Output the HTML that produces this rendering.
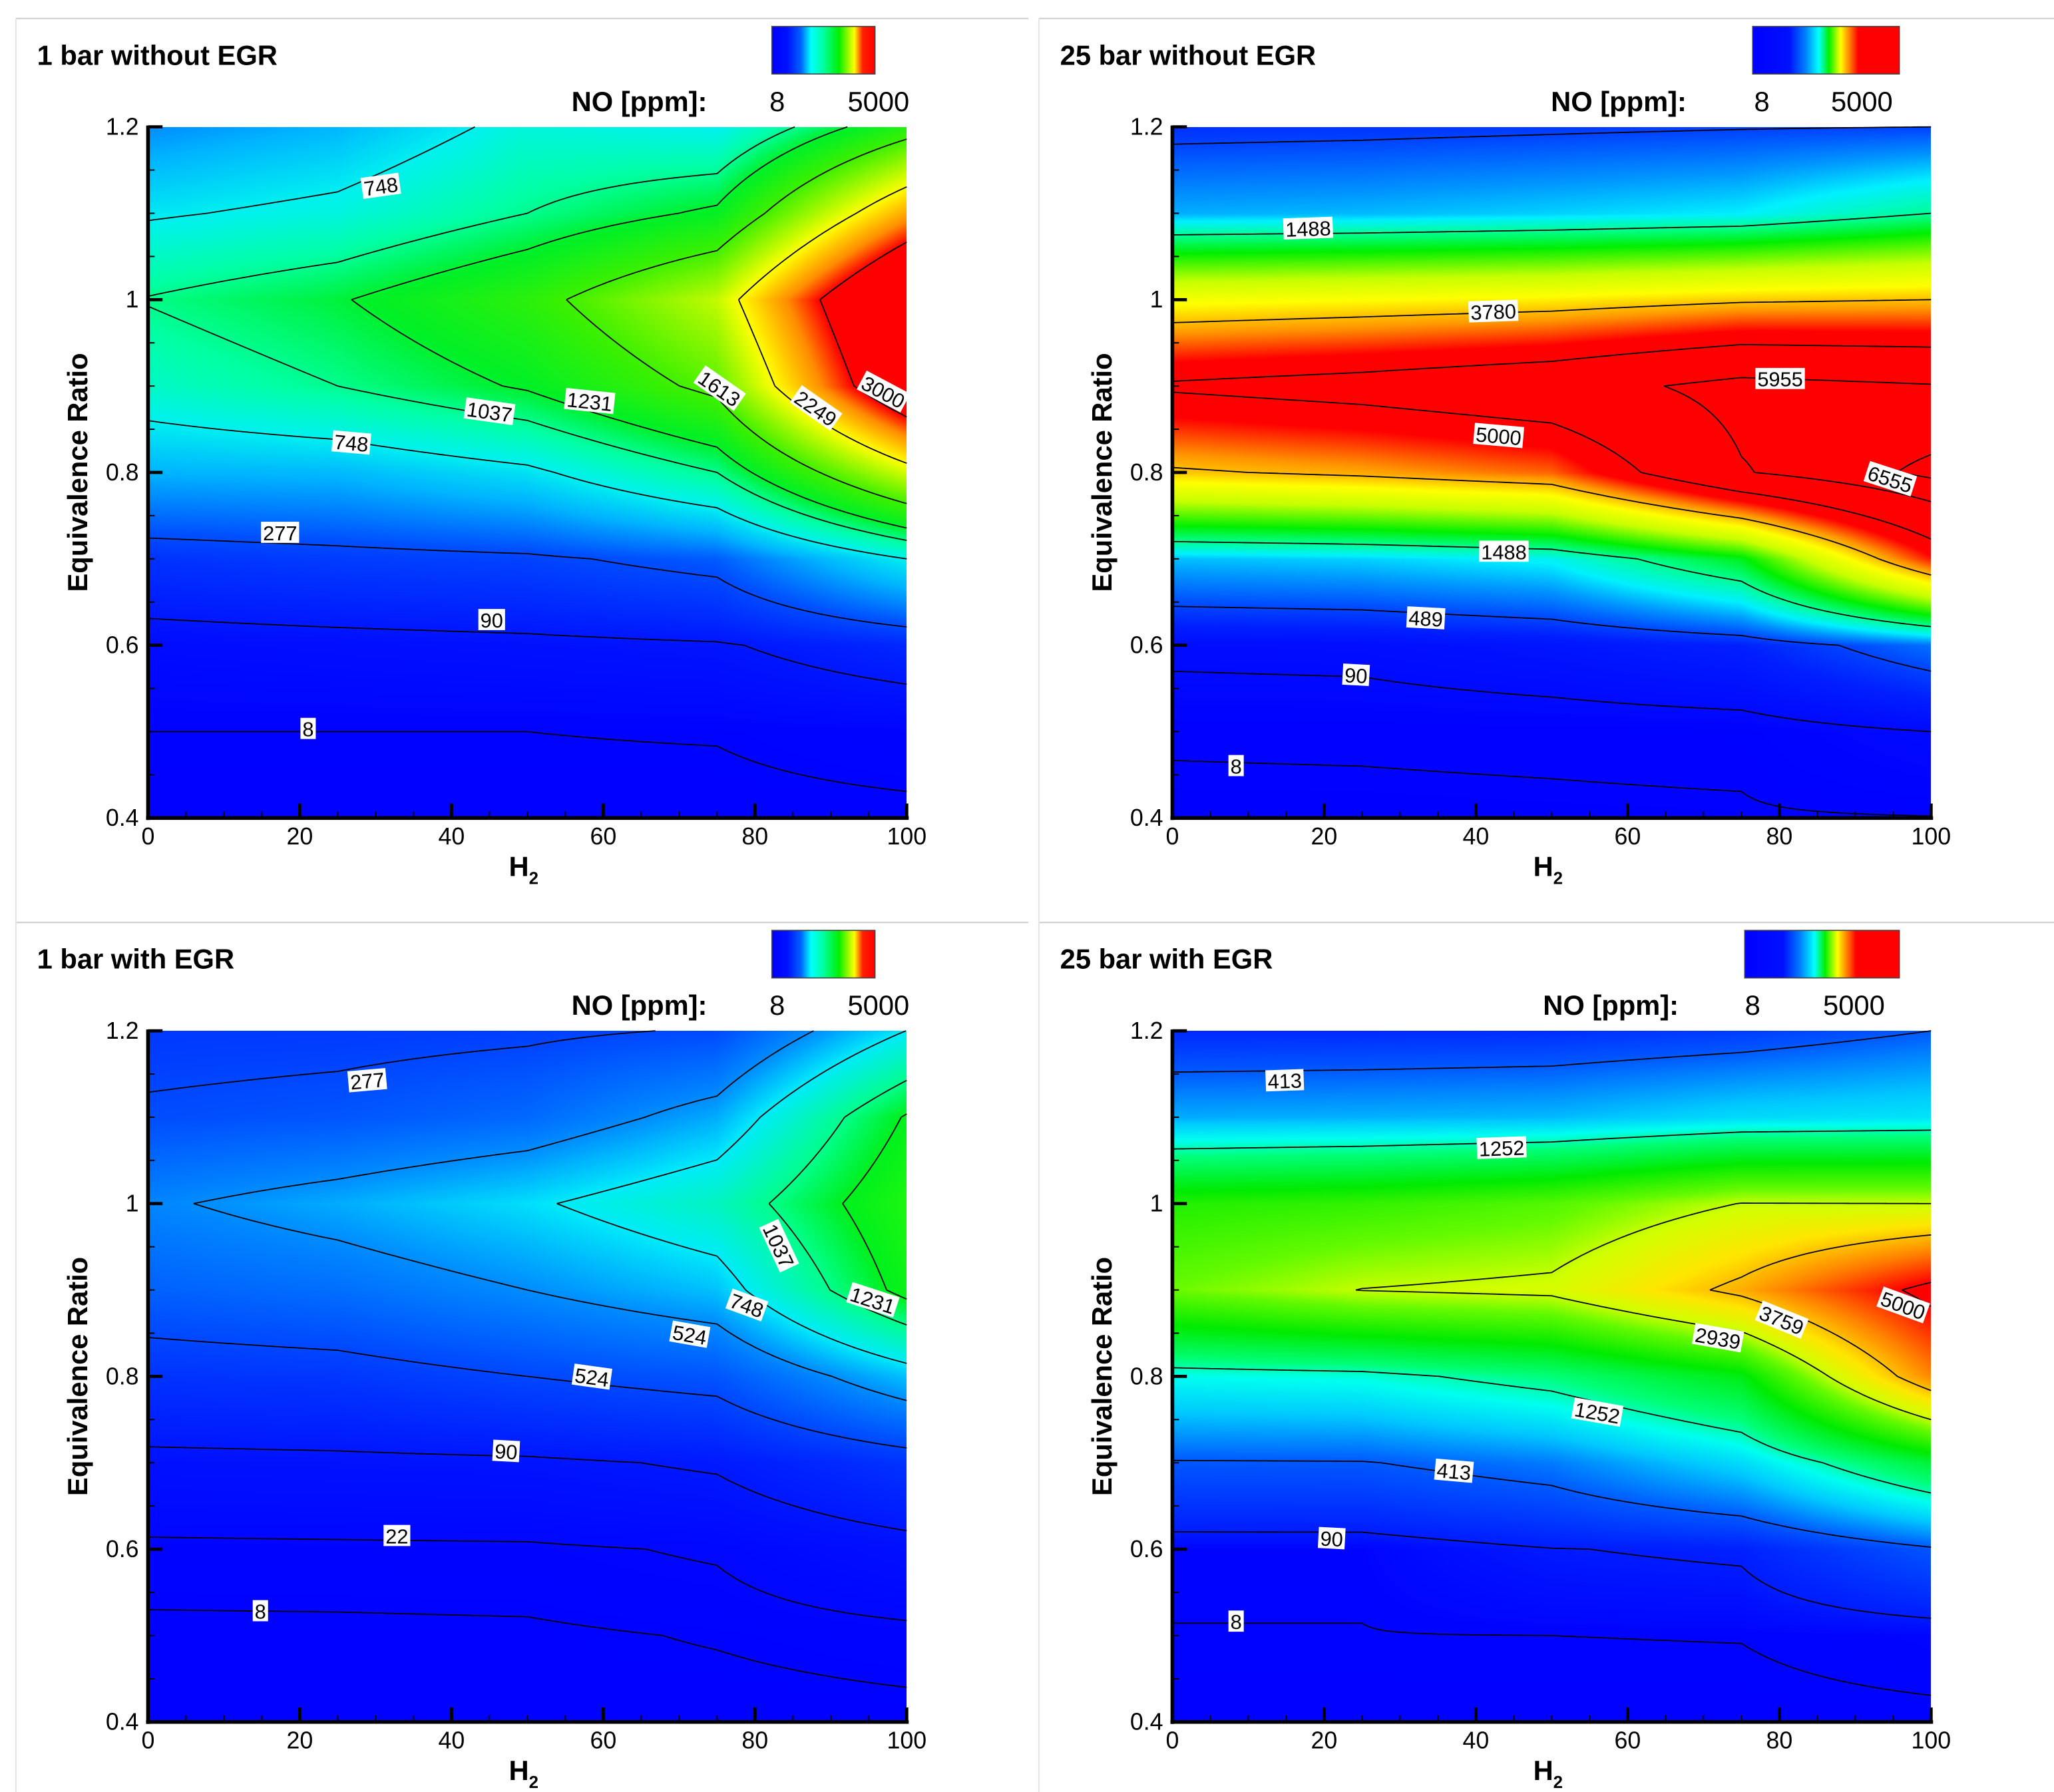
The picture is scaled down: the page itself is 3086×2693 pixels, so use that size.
<!DOCTYPE html>
<html><head><meta charset="utf-8">
<style>
html,body{margin:0;padding:0;background:#fff;}
#root{position:relative;width:3086px;height:2693px;overflow:hidden;background:#fff;}
canvas{position:absolute;}
svg{position:absolute;left:0;top:0;}
text{font-family:"Liberation Sans",Arial,sans-serif;}
</style></head>
<body>
<div id="root">
<svg id="svg" width="3086" height="2693" viewBox="0 0 1554 1356" preserveAspectRatio="none">
<defs>
<linearGradient id="cbA" x1="0" x2="1" y1="0" y2="0">
<stop offset="0" stop-color="#0000ff"/><stop offset="0.15" stop-color="#0010ff"/><stop offset="0.28" stop-color="#0060ff"/><stop offset="0.38" stop-color="#00ffff"/><stop offset="0.5" stop-color="#00ffa0"/><stop offset="0.65" stop-color="#00f000"/><stop offset="0.8" stop-color="#ffff00"/><stop offset="0.88" stop-color="#ff2000"/><stop offset="1" stop-color="#ff0000"/>
</linearGradient>
<linearGradient id="cbB" x1="0" x2="1" y1="0" y2="0">
<stop offset="0" stop-color="#0000ff"/><stop offset="0.25" stop-color="#0010ff"/><stop offset="0.36" stop-color="#0080ff"/><stop offset="0.45" stop-color="#00ffff"/><stop offset="0.52" stop-color="#00f000"/><stop offset="0.6" stop-color="#ffff00"/><stop offset="0.72" stop-color="#ff0000"/><stop offset="1" stop-color="#ff0000"/>
</linearGradient>
</defs>
<line x1="12" y1="14" x2="778" y2="14" stroke="#ccc" stroke-width="1"/>
<line x1="786" y1="14" x2="1554" y2="14" stroke="#ccc" stroke-width="1"/>
<line x1="12" y1="698" x2="778" y2="698" stroke="#ccc" stroke-width="1"/>
<line x1="786" y1="698" x2="1554" y2="698" stroke="#ccc" stroke-width="1"/>
<line x1="12" y1="14" x2="12" y2="1356" stroke="#e4e4e4" stroke-width="1"/>
<line x1="786" y1="14" x2="786" y2="1356" stroke="#e4e4e4" stroke-width="1"/>
</svg>
</div>
<script>
// ---------- data ----------
const h2Grid = [0, 25, 50, 75, 100];
const phiGrid = [0.4, 0.5, 0.6, 0.7, 0.8, 0.9, 1.0, 1.1, 1.2];
// NO ppm values, columns per H2 (each inner array runs phi 0.4..1.2)
const noTL = [
  [3, 8, 45, 190, 550, 880, 1050, 720, 450],
  [3, 8, 55, 225, 570, 1037, 1210, 810, 560],
  [4, 8, 65, 250, 700, 1260, 1500, 1037, 820],
  [3, 9, 80, 330, 1037, 1700, 2050, 1280, 750],
  [4, 17, 150, 748, 2100, 3500, 3800, 2600, 1450]
];
const noTR = [
  [2, 11, 124, 935, 3700, 5100, 3300, 884, 390],
  [2, 12, 135, 1000, 3900, 5300, 3400, 920, 410],
  [3, 14, 204, 1150, 4200, 5600, 3500, 1000, 440],
  [4, 17, 309, 1900, 5900, 6200, 3700, 1100, 470],
  [6, 90, 660, 4500, 6700, 6000, 3780, 1488, 489]
];
const noBL = [
  [3, 5, 15, 65, 200, 371, 500, 300, 220],
  [3, 5, 16, 70, 215, 420, 600, 330, 230],
  [3, 5.5, 17, 75, 277, 524, 720, 400, 250],
  [3, 9, 25, 100, 330, 650, 900, 600, 290],
  [4, 14, 60, 200, 650, 1300, 1400, 1250, 750]
];
const noBR = [
  [3, 7, 14, 394, 1100, 2620, 2200, 700, 150],
  [3, 7, 14, 400, 1150, 2950, 2300, 720, 160],
  [3, 8, 85, 530, 1400, 3050, 2500, 750, 180],
  [3, 8.5, 110, 900, 1900, 3900, 2950, 900, 250],
  [4, 17, 382, 1720, 4160, 5200, 2939, 954, 413]
];
const levelsTL = [8, 90, 277, 748, 1037, 1231, 1613, 2249, 3000];
const levelsTR = [8, 90, 489, 1488, 3780, 5000, 5955, 6555];
const levelsBL = [8, 22, 90, 277, 524, 748, 1037, 1231];
const levelsBR = [8, 90, 413, 1252, 2939, 3759, 5000];
// contour labels: [text, H2, phi, angle]
const labelsTL = [["748",30.7,1.131,-8],["1037",45,0.870,8],["1231",58.2,0.882,6],["748",26.8,0.834,5],["1613",75.3,0.897,35],["2249",88,0.874,35],["3000",96.9,0.893,28],["277",17.4,0.730,0],["90",45.3,0.629,0],["8",21.1,0.503,0]];
const labelsTR = [["1488",17.9,1.082,-2],["3780",42.3,0.986,-2],["5955",80.1,0.908,0],["5000",43,0.842,5],["6555",94.6,0.792,18],["1488",43.7,0.708,0],["489",33.4,0.631,3],["90",24.2,0.565,3],["8",8.4,0.460,0]];
const labelsBL = [["277",28.9,1.142,-5],["1037",83.1,0.951,65],["748",78.9,0.882,20],["1231",95.5,0.888,18],["524",71.4,0.848,10],["524",58.5,0.799,8],["90",47.2,0.713,3],["22",32.8,0.615,0],["8",14.8,0.528,0]];
const labelsBR = [["413",14.8,1.142,-2],["1252",43.4,1.064,-2],["5000",96.3,0.882,20],["3759",80.3,0.865,22],["2939",71.9,0.844,10],["1252",56,0.758,10],["413",37.1,0.690,5],["90",21,0.612,3],["8",8.4,0.516,0]];
const xTicks = [0, 20, 40, 60, 80, 100];
const yTicks = [0.4, 0.6, 0.8, 1.0, 1.2];
const yTickLabels = ["0.4", "0.6", "0.8", "1", "1.2"];
const titles = ["1 bar without EGR", "25 bar without EGR", "1 bar with EGR", "25 bar with EGR"];

// ---------- styling (colour maps, layout) ----------
const cmapA = [[0,0,0,255],[100,0,25,255],[300,0,80,255],[550,0,180,255],[750,0,240,240],[1000,0,255,160],[1250,0,240,40],[1600,60,240,0],[2250,255,255,0],[2700,255,140,0],[3000,255,0,0],[1e9,255,0,0]];
const cmapA2 = [[0,0,0,255],[100,0,25,255],[277,0,70,255],[524,0,140,255],[748,0,235,250],[1037,0,255,140],[1231,0,240,30],[1600,60,255,0],[2250,255,255,0],[3000,255,0,0],[1e9,255,0,0]];
const cmapB = [[0,0,0,255],[300,0,30,255],[500,0,70,255],[800,0,150,255],[1100,0,240,255],[1488,0,255,150],[2000,0,240,0],[2800,200,255,0],[3400,255,255,0],[4000,255,150,0],[4600,255,0,0],[1e9,255,0,0]];
const cmapB2 = [[0,0,0,255],[100,0,30,255],[413,0,90,255],[800,0,200,255],[1100,0,255,240],[1400,0,255,120],[2000,0,235,0],[2600,100,250,0],[3000,210,255,0],[3500,255,230,0],[4200,255,130,0],[5000,255,0,0],[1e9,255,0,0]];

const S = 3086/1554, SY = 2693/1356;
const PW = 574, PH = 523;
const panels = [
  {ox:112, oy:96, z:noTL, lv:levelsTL, lb:labelsTL, cm:cmapA, cb:[584,20,78,"cbA"], nox:535, n8:588, n5:688, tx:28, title:titles[0], key:"tl"},
  {ox:887, oy:96, z:noTR, lv:levelsTR, lb:labelsTR, cm:cmapB, cb:[1326,20,111,"cbB"], nox:1276, n8:1333, n5:1432, tx:802, title:titles[1], key:"tr"},
  {ox:112, oy:780, z:noBL, lv:levelsBL, lb:labelsBL, cm:cmapA2, cb:[584,704,78,"cbA"], nox:535, n8:588, n5:688, tx:28, title:titles[2], key:"bl"},
  {ox:887, oy:780, z:noBR, lv:levelsBR, lb:labelsBR, cm:cmapB2, cb:[1320,704,117,"cbB"], nox:1270, n8:1326, n5:1426, tx:802, title:titles[3], key:"br"}
];

const NS = "http://www.w3.org/2000/svg";
const svg = document.getElementById("svg");
const root = document.getElementById("root");
function mk(tag, attrs, parent){ const e=document.createElementNS(NS,tag); for(const k in attrs) e.setAttribute(k,attrs[k]); (parent||svg).appendChild(e); return e; }

function interp(z, h, p){
  let fi = h/25; let i = Math.min(3, Math.max(0, Math.floor(fi))); let tx = fi - i;
  let fj = (p-0.4)/0.1; let j = Math.min(7, Math.max(0, Math.floor(fj))); let ty = fj - j;
  const a=z[i][j], b=z[i+1][j], c=z[i][j+1], d=z[i+1][j+1];
  return (a*(1-tx)+b*tx)*(1-ty) + (c*(1-tx)+d*tx)*ty;
}
function cmap(stops, v){
  for(let k=1;k<stops.length;k++){
    if(v<=stops[k][0]){ const s0=stops[k-1], s1=stops[k]; const t=(v-s0[0])/(s1[0]-s0[0]);
      return [s0[1]+(s1[1]-s0[1])*t, s0[2]+(s1[2]-s0[2])*t, s0[3]+(s1[3]-s0[3])*t]; }
  }
  return [255,0,0];
}

panels.forEach(P => {
  const xs = h => P.ox + h/100*PW;
  const ys = p => P.oy + (1.2-p)/0.8*PH;
  const cv = document.createElement("canvas");
  
  
  const cw = Math.round(PW*S), ch = Math.round(PH*SY);
  cv.width = cw; cv.height = ch;
  cv.style.left = Math.round(P.ox*S)+"px"; cv.style.top = Math.round(P.oy*SY)+"px";
  root.insertBefore(cv, svg);
  const ctx = cv.getContext("2d"); const im = ctx.createImageData(cw, ch);
  for(let y=0;y<ch;y++){ const p = 1.2 - y/(ch-1)*0.8;
    for(let x=0;x<cw;x++){ const h = x/(cw-1)*100;
      const c = cmap(P.cm, interp(P.z,h,p)); const o=(y*cw+x)*4;
      im.data[o]=c[0]; im.data[o+1]=c[1]; im.data[o+2]=c[2]; im.data[o+3]=255; } }
  ctx.putImageData(im,0,0);

  const g = mk("g", {});
  
  

  const N = 120;
  const vals = [];
  for(let i=0;i<=N;i++){ vals.push([]); for(let j=0;j<=N;j++) vals[i].push(interp(P.z, i/N*100, 0.4+j/N*0.8)); }
  P.lv.forEach(L => {
    let d = "";
    for(let i=0;i<N;i++) for(let j=0;j<N;j++){
      const c = [[i,j],[i+1,j],[i+1,j+1],[i,j+1]];
      const v = c.map(q=>vals[q[0]][q[1]]);
      const pts = [];
      for(let e=0;e<4;e++){ const a=v[e], b=v[(e+1)%4];
        if((a<L)!==(b<L)){ const t=(L-a)/(b-a); const A=c[e], B=c[(e+1)%4];
          const hi=(A[0]+(B[0]-A[0])*t)/N*100, pj=0.4+(A[1]+(B[1]-A[1])*t)/N*0.8;
          pts.push([xs(hi), ys(pj)]); } }
      for(let k=0;k+1<pts.length;k+=2) d += "M"+pts[k][0].toFixed(2)+" "+pts[k][1].toFixed(2)+"L"+pts[k+1][0].toFixed(2)+" "+pts[k+1][1].toFixed(2);
    }
    const path = mk("path", {d:d, fill:"none", stroke:"#000", "stroke-width":"0.9"}, g);
    
    
  });
  P.lb.forEach(l => {
    const w = l[0].length*8.6+3;
    const lg = mk("g", {transform:"translate("+xs(l[1]).toFixed(1)+","+ys(l[2]).toFixed(1)+") rotate("+l[3]+")"}, g);
    
    
    mk("rect", {x:-w/2, y:-8.5, width:w, height:16, fill:"#fff"}, lg);
    const t = mk("text", {x:0, y:5.5, "text-anchor":"middle", "font-size":"15.5"}, lg); t.textContent = l[0];
  });
  const ax = mk("g", {stroke:"#000"}, g);
  
  
  mk("line", {x1:P.ox, y1:P.oy-1, x2:P.ox, y2:P.oy+PH+1.5, "stroke-width":"2.8"}, ax);
  mk("line", {x1:P.ox-1.5, y1:P.oy+PH, x2:P.ox+PW+1.5, y2:P.oy+PH, "stroke-width":"2.8"}, ax);
  for(let h=0; h<=100; h+=5){ const maj = h%20===0; mk("line",{x1:xs(h),y1:P.oy+PH,x2:xs(h),y2:P.oy+PH-(maj?11:5),"stroke-width":maj?"2.4":"1"},ax); }
  for(let k=0; k<=16; k++){ const p=0.4+k*0.05; const maj = k%4===0; mk("line",{x1:P.ox,y1:ys(p),x2:P.ox+(maj?11:5),y2:ys(p),"stroke-width":maj?"2.4":"1"},ax); }
  xTicks.forEach(h => { const t=mk("text",{x:xs(h), y:P.oy+PH+20, "text-anchor":"middle","font-size":"18"},g); t.textContent=String(h);
      });
  yTicks.forEach((p,k) => { const t=mk("text",{x:P.ox-7, y:ys(p)+6, "text-anchor":"end","font-size":"18"},g); t.textContent=yTickLabels[k];
      });
  const yt = mk("text",{x:0,y:0,transform:"translate("+(P.ox-46)+","+(P.oy+PH/2)+") rotate(-90)","text-anchor":"middle","font-size":"21","font-weight":"bold"},g);
  yt.textContent = "Equivalence Ratio";
   
  const xt = mk("text",{x:P.ox+PW/2-14, y:P.oy+PH+44,"font-size":"21","font-weight":"bold"},g);
  xt.textContent = "H";
   
  const sub = mk("tspan",{dy:"6","font-size":"13"},xt); sub.textContent="2";
  const tt = mk("text",{x:P.tx, y:P.oy-47,"font-size":"21","font-weight":"bold"},g);
  tt.textContent = P.title;
   
  const cb = mk("rect",{x:P.cb[0], y:P.cb[1], width:P.cb[2], height:36, fill:"url(#"+P.cb[3]+")", stroke:"#444","stroke-width":"0.8"},g);
   
  const nl = mk("text",{x:P.nox, y:P.oy-12,"text-anchor":"end","font-size":"21","font-weight":"bold"},g);
  nl.textContent = "NO [ppm]:";
   
  const l8 = mk("text",{x:P.n8, y:P.oy-12,"text-anchor":"middle","font-size":"21"},g); l8.textContent="8";
   
  const l5 = mk("text",{x:P.n5, y:P.oy-12,"text-anchor":"end","font-size":"21"},g); l5.textContent="5000";
   
});
</script>
</body></html>
